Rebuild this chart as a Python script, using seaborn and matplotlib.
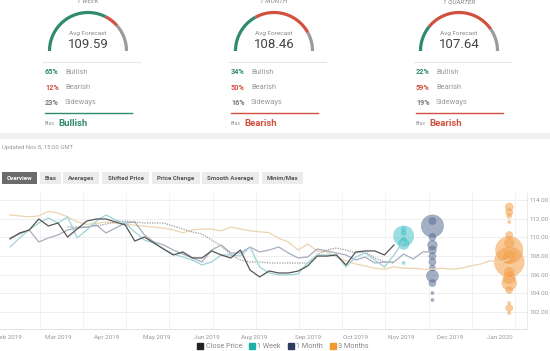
import numpy as np
import pandas as pd
import matplotlib
matplotlib.use("Agg")
import matplotlib.pyplot as plt
from matplotlib.lines import Line2D
from matplotlib.patches import Rectangle
import seaborn as sns

# --- poll summary ---
horizons = ["1 WEEK", "1 MONTH", "1 QUARTER"]
avg_forecast = [109.59, 108.46, 107.64]
bullish = [65, 34, 22]
bearish = [12, 50, 59]
sideways = [23, 16, 19]
bias = ["Bullish", "Bearish", "Bearish"]

tabs = ["Overview", "Bias", "Averages", "Shifted Price", "Price Change",
        "Smooth Average", "Minim/Max"]

# --- weekly series (index = week) ---
close_price = [109.83, 110.47, 110.79, 111.97, 111.22, 111.54, 110.04, 110.90, 111.75, 111.97,
               111.97, 111.65, 111.33, 109.61, 110.04, 109.40, 108.76, 108.12, 108.44, 107.80,
               107.80, 108.55, 108.12, 107.80, 108.65, 106.51, 105.77, 106.41, 106.19, 106.19,
               106.40, 106.94, 108.00, 108.00, 108.12, 107.05, 108.44, 108.55, 108.55, 108.12,
               109.19]
week_avg = [108.97, 109.94, 110.79, 111.54, 112.07, 111.54, 112.18, 109.94, 110.79, 111.75,
            112.40, 111.86, 111.54, 110.58, 109.72, 109.40, 108.76, 108.22, 107.90, 107.58,
            107.05, 107.37, 108.12, 108.12, 108.01, 108.97, 106.83, 106.19, 105.98, 105.98,
            106.09, 107.26, 108.12, 108.12, 108.12, 106.83, 107.90, 108.33, 107.58, 106.83,
            108.12, 109.59]
month_avg = [109.94, 110.36, 110.79, 109.51, 109.94, 110.26, 110.79, 111.01, 111.11, 111.33,
             110.47, 111.01, 111.54, 111.65, 110.26, 109.51, 109.19, 108.65, 108.22, 107.80,
             107.37, 108.65, 109.19, 108.33, 108.33, 108.97, 108.44, 108.65, 108.97, 108.33,
             107.80, 107.90, 108.76, 108.55, 108.33, 108.12, 107.58, 107.90, 107.26, 107.37,
             107.37, 108.22, 107.69, 108.44, 108.46]
quarter_avg = [112.40, 112.30, 112.20, 112.30, 112.80, 112.60, 112.20, 111.65, 111.40, 111.50,
               111.65, 111.50, 111.40, 111.30, 111.20, 111.10, 111.00, 110.80, 110.50, 110.80,
               110.90, 110.90, 110.70, 111.10, 110.90, 110.70, 110.60, 110.50, 109.90, 109.50,
               108.65, 109.30, 108.55, 108.45, 107.90, 107.50, 107.15, 106.95, 106.70, 106.60,
               106.85, 106.70, 106.70, 106.60, 106.60, 106.70, 106.60, 106.70, 106.95, 107.15,
               107.50, 107.35, 107.64]
dotted_start = 6
dotted_avg = [111.11, 111.11, 111.11, 111.22, 111.43, 111.65, 111.75, 111.65, 111.54, 111.54,
              111.54, 111.22, 110.90, 110.58, 110.36, 109.72, 109.08, 108.12, 107.58, 107.37,
              107.37, 107.26, 107.26, 107.26, 107.26, 107.26, 108.12, 108.65, 108.87, 108.65,
              108.33, 108.44, 107.80, 107.37, 107.26]

# --- individual forecasts (value, votes) ---
week_fc = [110.15, 110.85, 110.45, 109.75, 109.30, 107.26]
week_votes = [30, 2, 2, 2, 9, 1]
month_fc = [111.22, 111.75, 110.04, 109.19, 108.65, 108.00, 107.37, 106.73, 105.87, 105.12,
            104.05, 103.30]
month_votes = [36, 4, 4, 7, 5, 4, 4, 3, 11, 4, 1, 1]
quarter_fc = [113.25, 112.70, 112.30, 111.65, 110.26, 109.40, 108.65, 107.90, 107.37, 106.30,
              105.66, 105.12, 104.37, 102.98, 102.45, 101.90]
quarter_votes = [5, 4, 2, 1, 4, 7, 54, 11, 64, 7, 11, 16, 4, 1, 4, 1]

tick_pos = [-0.16, 5.0, 10.1, 15.3, 20.5, 25.4, 31.0, 36.0, 40.8, 45.8, 51.0]
tick_labels = ["Feb 2019", "Mar 2019", "Apr 2019", "May 2019", "Jun 2019", "Aug 2019",
               "Sep 2019", "Oct 2019", "Nov 2019", "Dec 2019", "Jan 2020"]

GREEN, RED, GREY = "#2f8a6f", "#d2503f", "#9a9a9a"
plt.rcParams["font.family"] = ["Roboto", "DejaVu Sans"]

fig = plt.figure(figsize=(5.5, 3.51), dpi=100)
fig.patch.set_facecolor("white")

# overlay in pixel coordinates for the header part
ov = fig.add_axes([0, 0, 1, 1])
ov.set_xlim(0, 550)
ov.set_ylim(351, 0)
ov.axis("off")
ov.patch.set_alpha(0)

centers = [88, 274, 459]
for k, cx in enumerate(centers):
    cy, r = 51, 38.5
    ov.text(cx, 1.5, horizons[k], ha="center", va="center", fontsize=4.6,
            style="italic", color="#888")
    edges = [180, 180 - bullish[k] * 1.8, 180 - (bullish[k] + bearish[k]) * 1.8, 0]
    for a0, a1, c in zip(edges[:-1], edges[1:], [GREEN, RED, GREY]):
        th = np.radians(np.linspace(a0, a1, 60))
        ov.plot(cx + r * np.cos(th), cy - r * np.sin(th), color=c, lw=2.3,
                solid_capstyle="butt")
    ov.text(cx, 33, "Avg Forecast", ha="center", va="center", fontsize=4.6, color="#888")
    ov.text(cx, 44.5, f"{avg_forecast[k]:.2f}", ha="center", va="center",
            fontsize=9.5, color="#444")
    x0 = cx - 43
    ov.plot([x0 - 2, x0 + 95], [62, 62], color="#e6e6e6", lw=0.8)
    rows = [(bullish[k], "Bullish", GREEN), (bearish[k], "Bearish", RED),
            (sideways[k], "Sideways", "#777")]
    for j, (p, name, c) in enumerate(rows):
        yy = 72 + j * 15.5
        ov.text(x0, yy, f"{p}%", ha="left", va="center", fontsize=5.2,
                fontweight="bold", color=c)
        ov.text(x0 + 20, yy, name, ha="left", va="center", fontsize=5.4, color="#999")
    bc = GREEN if bias[k] == "Bullish" else RED
    ov.plot([x0, x0 + 87], [113, 113], color=bc, lw=1.0)
    ov.text(x0, 123.5, "Bias", ha="left", va="center", fontsize=3.8, color="#999")
    ov.text(x0 + 13.5, 123, bias[k], ha="left", va="center", fontsize=6.8,
            fontweight="bold", color=bc)

ov.add_patch(Rectangle((0, 133), 550, 6, color="#f1f1f1", lw=0))
ov.text(2, 148, "Updated Nov 8, 15:00 GMT", ha="left", va="center", fontsize=4.3,
        color="#999")

tab_x = [(2, 37), (40, 61), (63, 99), (102, 149), (152, 200), (202, 259), (262, 303)]
for k, (a, b) in enumerate(tab_x):
    active = k == 0
    ov.add_patch(Rectangle((a, 172), b - a, 12, color="#6b6b6b" if active else "#ececec",
                           lw=0))
    ov.text((a + b) / 2, 178.2, tabs[k], ha="center", va="center", fontsize=4.4,
            fontweight="bold", color="white" if active else "#555")

# --- main chart ---
ax = fig.add_axes([0, 22 / 351, 527 / 550, 136 / 351])
ax.set_facecolor("white")

sns.lineplot(x=np.arange(len(quarter_avg)), y=quarter_avg, color="#ecd4b2", lw=0.9, ax=ax)
sns.lineplot(x=np.arange(len(month_avg)), y=month_avg, color="#a6aebd", lw=0.9, ax=ax)
sns.lineplot(x=np.arange(dotted_start, dotted_start + len(dotted_avg)), y=dotted_avg,
             color="#9c9c9c", lw=0.9, ls=(0, (1, 1)), ax=ax)
sns.lineplot(x=np.arange(len(week_avg)), y=week_avg, color="#9ed3d8", lw=0.9, ax=ax)
sns.lineplot(x=np.arange(len(close_price)), y=close_price, color="#555555", lw=0.9, ax=ax)

for fc, votes, series, col in [(week_fc, week_votes, week_avg, "#49c2c9"),
                               (month_fc, month_votes, month_avg, "#5a6d95"),
                               (quarter_fc, quarter_votes, quarter_avg, "#f3a04a")]:
    df = pd.DataFrame({"x": len(series) - 1, "y": fc, "n": votes})
    sns.scatterplot(data=df, x="x", y="y", size="n", sizes=(5, 460), size_norm=(1, 64),
                    color=col, alpha=0.55, edgecolor=col, linewidth=0.3, legend=False, ax=ax)

ax.set_xlim(-1.04, 53.85)
ax.set_ylim(100.2, 114.75)
ax.set_yticks(np.arange(102, 115, 2))
ax.set_yticklabels([f"{v:.2f}" for v in np.arange(102, 115, 2)])
ax.yaxis.tick_right()
ax.set_xticks(tick_pos)
ax.set_xticklabels(tick_labels)
ax.set_xticks(np.arange(3.1, 53, 4.5), minor=True)
ax.tick_params(axis="both", which="both", length=0, labelsize=4.5, colors="#999")
ax.tick_params(axis="x", pad=4)
ax.tick_params(axis="y", pad=1.5)
ax.grid(axis="y", which="major", color="#ececec", lw=0.6)
ax.grid(axis="x", which="minor", color="#f1f1f1", lw=0.6)
ax.set_axisbelow(True)
ax.set_xlabel("")
ax.set_ylabel("")
for s in ["top", "left", "right"]:
    ax.spines[s].set_visible(False)
ax.spines["bottom"].set_color("#dddddd")
ax.spines["bottom"].set_linewidth(0.6)
ax.spines["right"].set_visible(True)
ax.spines["right"].set_color("#e6e6e6")
ax.spines["right"].set_linewidth(0.6)

handles = [Line2D([], [], marker="s", ls="", color=c, markersize=4.2)
           for c in ["#222222", "#1fb0aa", "#2d3e5c", "#f39a2e"]]
fig.legend(handles, ["Close Price", "1 Week", "1 Month", "3 Months"], ncol=4,
           loc="center", bbox_to_anchor=(283 / 550, 1 - 346.5 / 351), frameon=False,
           fontsize=5.2, handlelength=0.8, handletextpad=0.3, columnspacing=1.0,
           labelcolor="#888")

fig.savefig("out.png", dpi=100, facecolor="white")
